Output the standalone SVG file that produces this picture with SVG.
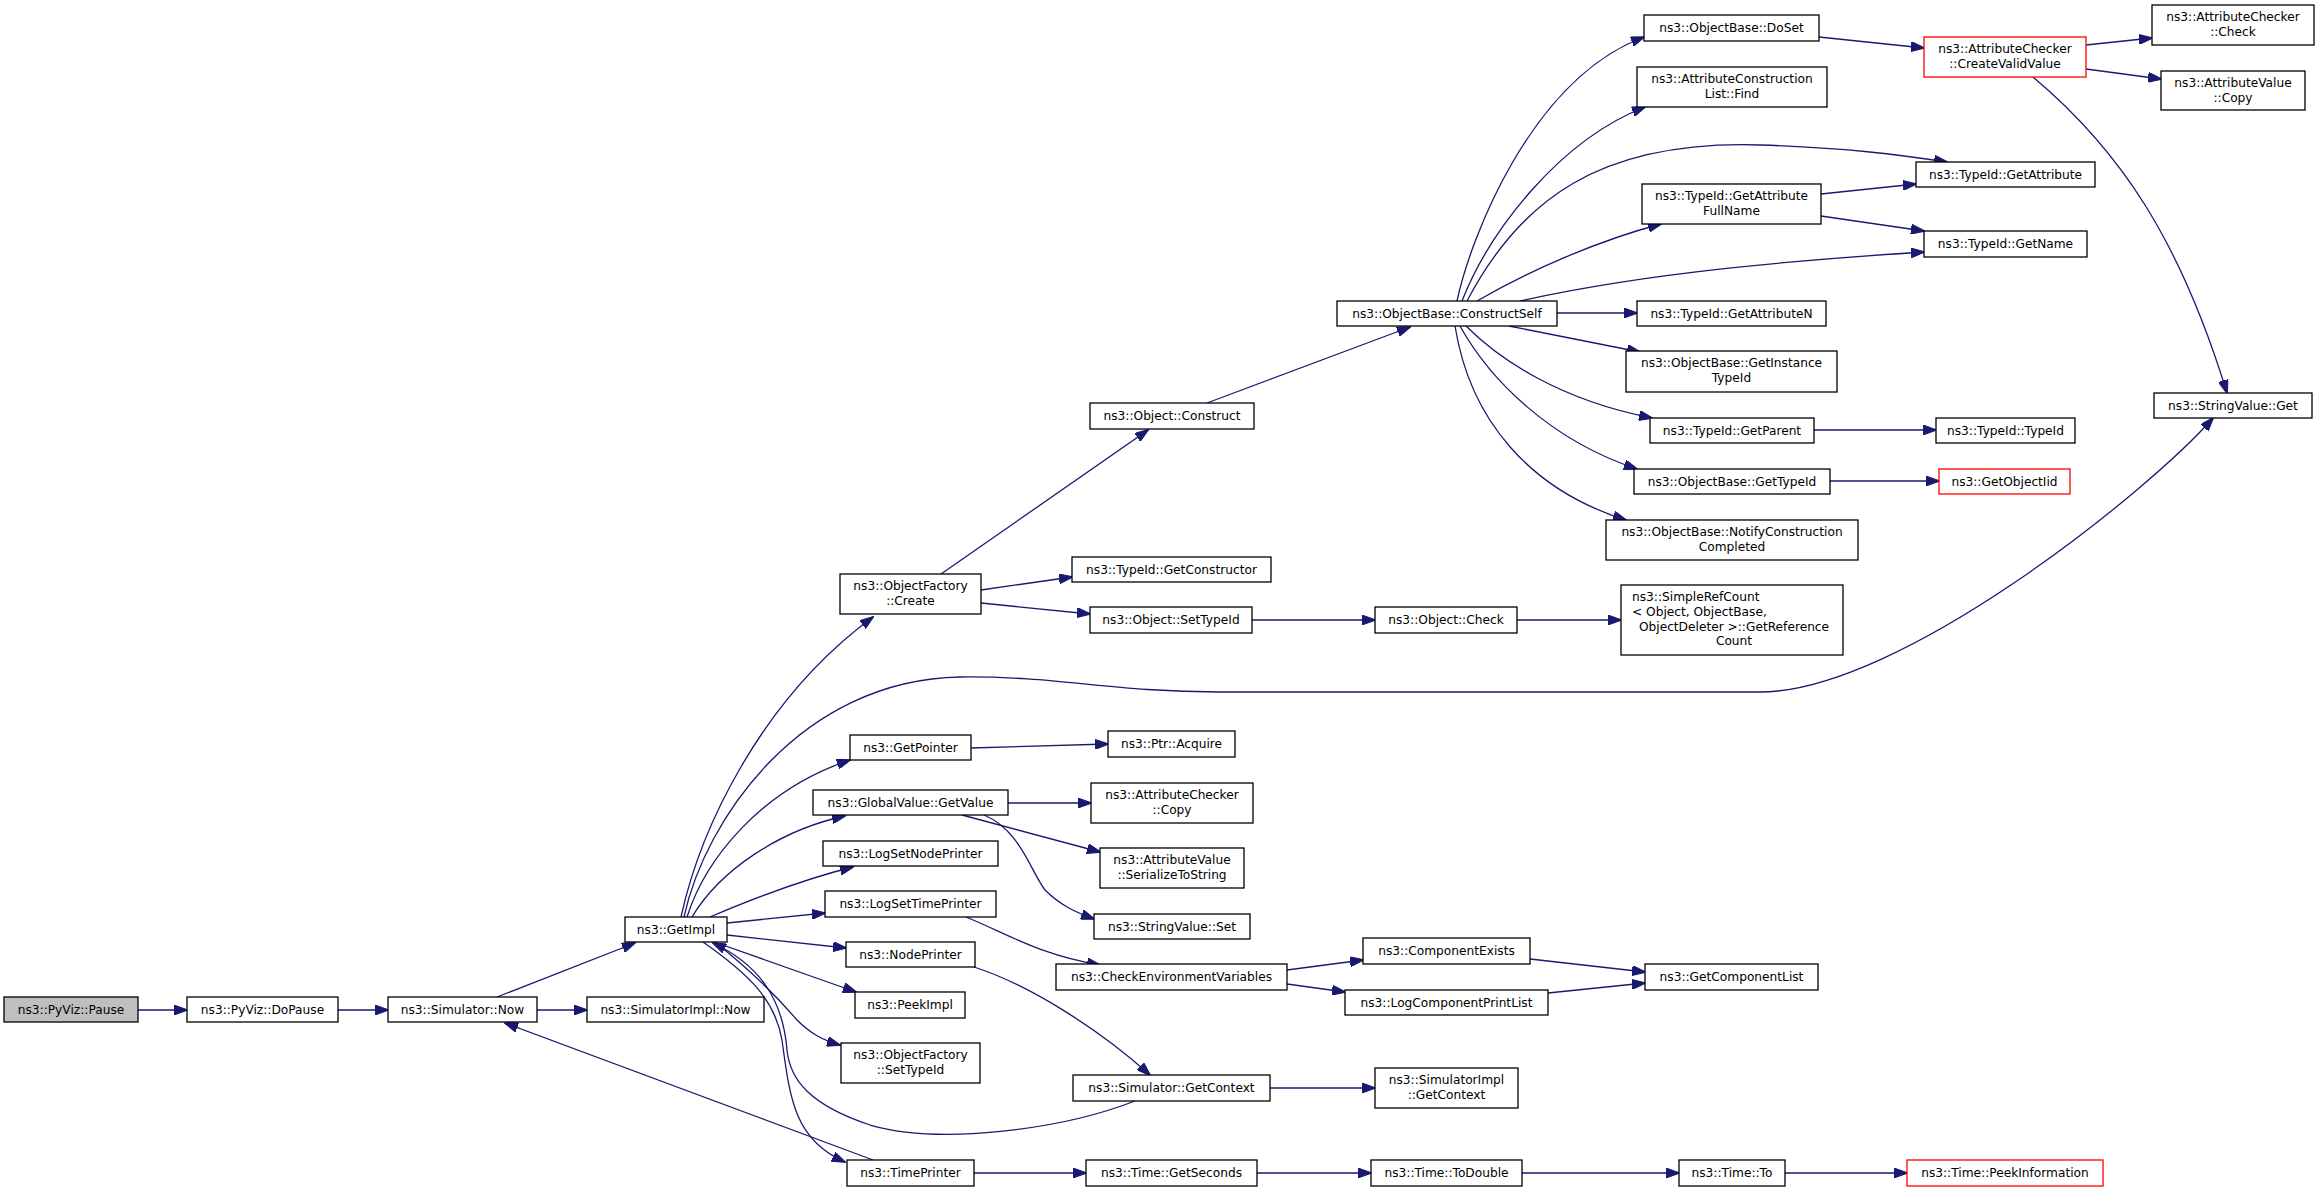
<svg xmlns="http://www.w3.org/2000/svg" width="2320" height="1192" viewBox="0 0 2320 1192">
<style>
.n rect{fill:#fff;stroke:#000;stroke-width:1.3}
.r rect{stroke:#ff0000}
.g rect{fill:#bfbfbf}
text{font-family:"DejaVu Sans","Liberation Sans",sans-serif;font-size:12.2px;fill:#000;text-anchor:middle}
text.l{text-anchor:start}
#edges path{fill:none;stroke:#191970;stroke-width:1.3;marker-end:url(#ah)}
</style>
<defs>
<marker id="ah" viewBox="0 0 14 10" markerWidth="14" markerHeight="10" refX="13" refY="5" orient="auto" markerUnits="userSpaceOnUse">
<path d="M0,0 L14,5 L0,10 z" fill="#191970" stroke="#191970" stroke-width="1"/>
</marker>
</defs>
<rect width="2320" height="1192" fill="#fff"/>
<g id="edges">
<path d="M138,1010 L187,1010"/>
<path d="M338,1010 L388,1010"/>
<path d="M537,1010 L587,1010"/>
<path d="M497,997 L635,943"/>
<path d="M873,1160 L505,1023"/>
<path d="M681,917 C700,830 760,700 873,617"/>
<path d="M684,917 C705,820 800,680 960,677 C1060,676 1110,692 1220,692 L1760,692 C1900,692 2150,490 2213,418"/>
<path d="M687,917 C705,860 760,790 850,760"/>
<path d="M692,917 C720,870 780,830 845,816"/>
<path d="M710,917 C750,900 800,880 853,867"/>
<path d="M727,923 L825,913"/>
<path d="M727,935 L846,948"/>
<path d="M720,944 L856,992"/>
<path d="M715,942 C750,970 780,1000 797,1020 C810,1033 822,1040 840,1045"/>
<path d="M703,942 C750,975 775,1000 782,1040 C790,1100 795,1140 845,1162"/>
<path d="M1135,1101 C1060,1130 940,1145 870,1125 C810,1105 790,1080 787,1050 C783,1000 760,965 713,943"/>
<path d="M941,574 L1148,430"/>
<path d="M981,590 L1072,577"/>
<path d="M981,603 L1090,614"/>
<path d="M1252,620 L1375,620"/>
<path d="M1517,620 L1621,620"/>
<path d="M1207,403 L1410,327"/>
<path d="M1457,301 C1470,240 1530,80 1644,37"/>
<path d="M1462,301 C1490,230 1560,140 1645,107"/>
<path d="M1467,301 C1520,200 1600,140 1760,145 C1850,148 1900,155 1947,162"/>
<path d="M1477,301 C1530,270 1600,240 1661,224"/>
<path d="M1520,301 C1650,272 1800,260 1924,252"/>
<path d="M1557,313 L1637,313"/>
<path d="M1509,326 L1640,352"/>
<path d="M1466,326 C1500,360 1560,400 1652,418"/>
<path d="M1460,326 C1490,380 1550,440 1637,469"/>
<path d="M1455,326 C1470,420 1530,490 1626,520"/>
<path d="M1821,194 L1916,184"/>
<path d="M1821,216 L1924,231"/>
<path d="M1819,37 L1924,48"/>
<path d="M2086,45 L2152,38"/>
<path d="M2086,69 L2161,79"/>
<path d="M2033,77 C2120,150 2180,240 2227,393"/>
<path d="M1814,430 L1936,430"/>
<path d="M1830,481 L1939,481"/>
<path d="M971,748 L1108,744"/>
<path d="M1008,803 L1091,803"/>
<path d="M962,815 L1100,852"/>
<path d="M984,815 C1020,830 1030,870 1045,890 C1060,905 1075,912 1094,919"/>
<path d="M966,917 C1010,935 1040,955 1100,965"/>
<path d="M974,967 C1030,985 1100,1030 1150,1075"/>
<path d="M1287,970 L1363,960"/>
<path d="M1287,984 L1345,992"/>
<path d="M1530,959 L1645,972"/>
<path d="M1548,993 L1645,983"/>
<path d="M1270,1088 L1375,1088"/>
<path d="M974,1173 L1086,1173"/>
<path d="M1257,1173 L1371,1173"/>
<path d="M1522,1173 L1679,1173"/>
<path d="M1785,1173 L1907,1173"/>
</g>
<g id="n_pause" class="n g"><rect x="4" y="997" width="134" height="25"/><text x="71" y="1014">ns3::PyViz::Pause</text></g>
<g id="n_dopause" class="n"><rect x="187" y="997" width="151" height="25"/><text x="262.5" y="1014">ns3::PyViz::DoPause</text></g>
<g id="n_simnow" class="n"><rect x="388" y="997" width="149" height="25"/><text x="462.5" y="1014">ns3::Simulator::Now</text></g>
<g id="n_simimplnow" class="n"><rect x="587" y="997" width="177" height="25"/><text x="675.5" y="1014">ns3::SimulatorImpl::Now</text></g>
<g id="n_getimpl" class="n"><rect x="625" y="917" width="102" height="25"/><text x="676" y="934">ns3::GetImpl</text></g>
<g id="n_ofcreate" class="n"><rect x="840" y="574" width="141" height="40"/><text x="910.5" y="590">ns3::ObjectFactory</text><text x="910.5" y="605">::Create</text></g>
<g id="n_getpointer" class="n"><rect x="850" y="735" width="121" height="25"/><text x="910.5" y="752">ns3::GetPointer</text></g>
<g id="n_gvgetvalue" class="n"><rect x="813" y="790" width="195" height="25"/><text x="910.5" y="807">ns3::GlobalValue::GetValue</text></g>
<g id="n_logsetnode" class="n"><rect x="823" y="841" width="175" height="25"/><text x="910.5" y="858">ns3::LogSetNodePrinter</text></g>
<g id="n_logsettime" class="n"><rect x="825" y="891" width="171" height="26"/><text x="910.5" y="908">ns3::LogSetTimePrinter</text></g>
<g id="n_nodeprinter" class="n"><rect x="846" y="942" width="129" height="25"/><text x="910.5" y="959">ns3::NodePrinter</text></g>
<g id="n_peekimpl" class="n"><rect x="855" y="992" width="110" height="26"/><text x="910" y="1009">ns3::PeekImpl</text></g>
<g id="n_ofsettypeid" class="n"><rect x="841" y="1043" width="139" height="40"/><text x="910.5" y="1059">ns3::ObjectFactory</text><text x="910.5" y="1074">::SetTypeId</text></g>
<g id="n_timeprinter" class="n"><rect x="847" y="1160" width="127" height="26"/><text x="910.5" y="1177">ns3::TimePrinter</text></g>
<g id="n_objconstruct" class="n"><rect x="1090" y="403" width="164" height="26"/><text x="1172" y="420">ns3::Object::Construct</text></g>
<g id="n_getconstructor" class="n"><rect x="1072" y="557" width="199" height="25"/><text x="1171.5" y="574">ns3::TypeId::GetConstructor</text></g>
<g id="n_objsettypeid" class="n"><rect x="1090" y="607" width="162" height="26"/><text x="1171" y="624">ns3::Object::SetTypeId</text></g>
<g id="n_ptracquire" class="n"><rect x="1108" y="731" width="127" height="26"/><text x="1171.5" y="748">ns3::Ptr::Acquire</text></g>
<g id="n_accopy" class="n"><rect x="1091" y="783" width="162" height="40"/><text x="1172" y="799">ns3::AttributeChecker</text><text x="1172" y="814">::Copy</text></g>
<g id="n_avserialize" class="n"><rect x="1100" y="848" width="144" height="40"/><text x="1172" y="864">ns3::AttributeValue</text><text x="1172" y="879">::SerializeToString</text></g>
<g id="n_svset" class="n"><rect x="1094" y="914" width="156" height="25"/><text x="1172" y="931">ns3::StringValue::Set</text></g>
<g id="n_checkenv" class="n"><rect x="1056" y="964" width="231" height="26"/><text x="1171.5" y="981">ns3::CheckEnvironmentVariables</text></g>
<g id="n_simgetcontext" class="n"><rect x="1073" y="1075" width="197" height="26"/><text x="1171.5" y="1092">ns3::Simulator::GetContext</text></g>
<g id="n_getseconds" class="n"><rect x="1086" y="1160" width="171" height="26"/><text x="1171.5" y="1177">ns3::Time::GetSeconds</text></g>
<g id="n_constructself" class="n"><rect x="1337" y="301" width="220" height="25"/><text x="1447" y="318">ns3::ObjectBase::ConstructSelf</text></g>
<g id="n_objcheck" class="n"><rect x="1375" y="607" width="142" height="26"/><text x="1446" y="624">ns3::Object::Check</text></g>
<g id="n_compexists" class="n"><rect x="1363" y="938" width="167" height="26"/><text x="1446.5" y="955">ns3::ComponentExists</text></g>
<g id="n_logcompprint" class="n"><rect x="1345" y="990" width="203" height="25"/><text x="1446.5" y="1007">ns3::LogComponentPrintList</text></g>
<g id="n_simimplgetcontext" class="n"><rect x="1375" y="1068" width="143" height="40"/><text x="1446.5" y="1084">ns3::SimulatorImpl</text><text x="1446.5" y="1099">::GetContext</text></g>
<g id="n_todouble" class="n"><rect x="1371" y="1160" width="151" height="26"/><text x="1446.5" y="1177">ns3::Time::ToDouble</text></g>
<g id="n_doset" class="n"><rect x="1644" y="15" width="175" height="26"/><text x="1731.5" y="32">ns3::ObjectBase::DoSet</text></g>
<g id="n_aclfind" class="n"><rect x="1637" y="67" width="190" height="40"/><text x="1732" y="83">ns3::AttributeConstruction</text><text x="1732" y="98">List::Find</text></g>
<g id="n_getattrfullname" class="n"><rect x="1642" y="184" width="179" height="40"/><text x="1731.5" y="200">ns3::TypeId::GetAttribute</text><text x="1731.5" y="215">FullName</text></g>
<g id="n_getattrn" class="n"><rect x="1637" y="301" width="189" height="25"/><text x="1731.5" y="318">ns3::TypeId::GetAttributeN</text></g>
<g id="n_getinstancetypeid" class="n"><rect x="1626" y="351" width="211" height="41"/><text x="1731.5" y="367">ns3::ObjectBase::GetInstance</text><text x="1731.5" y="382">TypeId</text></g>
<g id="n_getparent" class="n"><rect x="1650" y="418" width="164" height="25"/><text x="1732" y="435">ns3::TypeId::GetParent</text></g>
<g id="n_obgettypeid" class="n"><rect x="1634" y="469" width="196" height="25"/><text x="1732" y="486">ns3::ObjectBase::GetTypeId</text></g>
<g id="n_notify" class="n"><rect x="1606" y="520" width="252" height="40"/><text x="1732" y="536">ns3::ObjectBase::NotifyConstruction</text><text x="1732" y="551">Completed</text></g>
<g id="n_simplerefcount" class="n"><rect x="1621" y="585" width="222" height="70"/><text class="l" x="1632" y="601">ns3::SimpleRefCount</text><text class="l" x="1632" y="616">&lt; Object, ObjectBase,</text><text x="1734" y="631">ObjectDeleter &gt;::GetReference</text><text x="1734" y="645">Count</text></g>
<g id="n_getcomplist" class="n"><rect x="1645" y="964" width="173" height="26"/><text x="1731.5" y="981">ns3::GetComponentList</text></g>
<g id="n_timeto" class="n"><rect x="1679" y="1160" width="106" height="26"/><text x="1732" y="1177">ns3::Time::To</text></g>
<g id="n_createvalid" class="n r"><rect x="1924" y="37" width="162" height="40"/><text x="2005" y="53">ns3::AttributeChecker</text><text x="2005" y="68">::CreateValidValue</text></g>
<g id="n_getattribute" class="n"><rect x="1916" y="162" width="179" height="25"/><text x="2005.5" y="179">ns3::TypeId::GetAttribute</text></g>
<g id="n_getname" class="n"><rect x="1924" y="231" width="163" height="26"/><text x="2005.5" y="248">ns3::TypeId::GetName</text></g>
<g id="n_typeid" class="n"><rect x="1936" y="418" width="139" height="25"/><text x="2005.5" y="435">ns3::TypeId::TypeId</text></g>
<g id="n_getobjectiid" class="n r"><rect x="1939" y="469" width="131" height="25"/><text x="2004.5" y="486">ns3::GetObjectIid</text></g>
<g id="n_peekinfo" class="n r"><rect x="1907" y="1160" width="196" height="26"/><text x="2005" y="1177">ns3::Time::PeekInformation</text></g>
<g id="n_accheck" class="n"><rect x="2152" y="5" width="162" height="40"/><text x="2233" y="21">ns3::AttributeChecker</text><text x="2233" y="36">::Check</text></g>
<g id="n_avcopy" class="n"><rect x="2161" y="71" width="144" height="39"/><text x="2233" y="87">ns3::AttributeValue</text><text x="2233" y="102">::Copy</text></g>
<g id="n_svget" class="n"><rect x="2154" y="393" width="158" height="25"/><text x="2233" y="410">ns3::StringValue::Get</text></g>
</svg>
